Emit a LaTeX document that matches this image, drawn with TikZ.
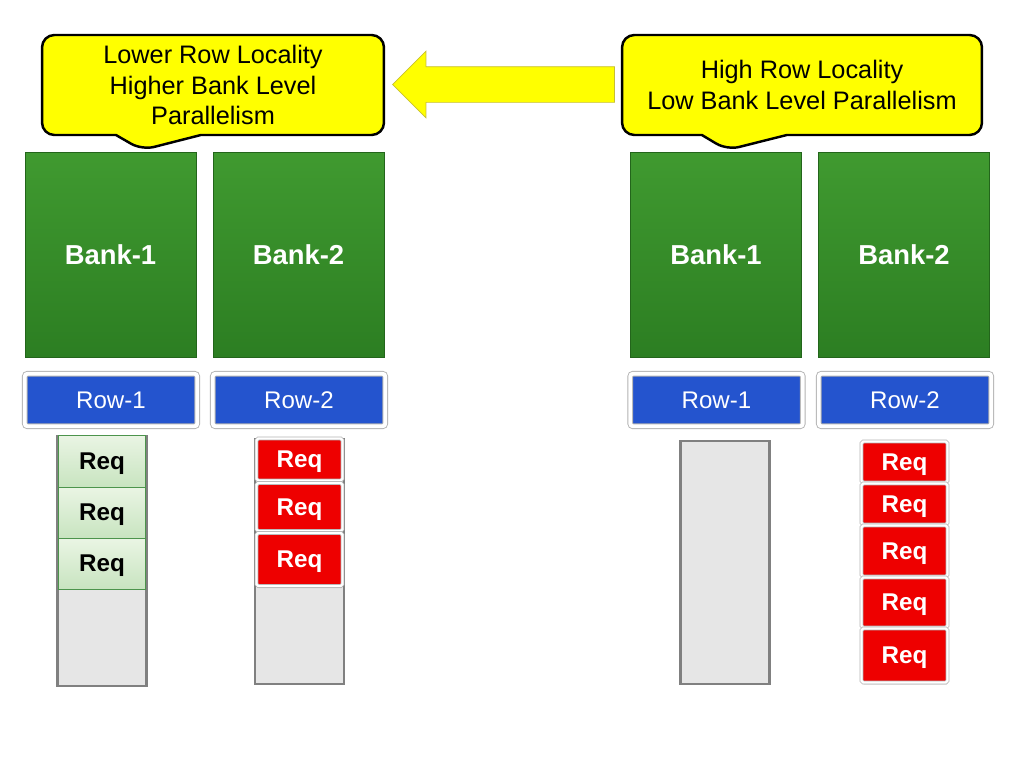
\documentclass[tikz,border=0pt]{standalone}
\usepackage{fontspec}
\setmainfont{Liberation Sans}
\usepackage{tikz}
\usetikzlibrary{shapes.callouts,shapes.arrows,shadows}

\definecolor{calloutyellow}{RGB}{255,255,0}
\definecolor{banktop}{RGB}{64,154,48}
\definecolor{bankbot}{RGB}{44,126,34}
\definecolor{rowblue}{RGB}{36,84,206}
\definecolor{reqred}{RGB}{238,0,0}
\definecolor{reqgreentop}{RGB}{234,245,228}
\definecolor{reqgreenbot}{RGB}{200,228,192}
\definecolor{queuegray}{RGB}{230,230,230}

\tikzset{
  callout/.style={rectangle callout, fill=calloutyellow, draw=black, line width=1.4pt,
    rounded corners=7pt, minimum height=2cm, align=center, callout pointer width=1.7cm,
    font=\fontsize{14.4}{17.3}\selectfont},
  bank/.style={rectangle, top color=banktop, bottom color=bankbot, draw=bankbot!80!black,
    line width=0.3pt, minimum width=3.42cm, minimum height=4.1cm, text=white,
    font=\fontsize{15.6}{18}\selectfont\bfseries},
  rowbox/.style={rectangle, fill=rowblue, draw=black!30, double=white, double distance=2.2pt,
    line width=0.5pt, rounded corners=1.5pt, minimum width=3.45cm, minimum height=1.05cm,
    text=white, font=\fontsize{13.7}{16}\selectfont},
  queue/.style={rectangle, fill=queuegray, draw=black!50, line width=1.3pt,
    minimum width=1.78cm, anchor=north},
  redreq/.style={rectangle, fill=reqred, draw=black!30, double=white, double distance=1.3pt,
    line width=0.45pt, rounded corners=1pt, minimum width=1.72cm, text=white, inner sep=0pt,
    text depth=0pt, drop shadow={opacity=0.25, shadow xshift=0.4pt, shadow yshift=-1.2pt},
    font=\fontsize{13.8}{16}\selectfont\bfseries},
  greenreq/.style={rectangle, top color=reqgreentop, bottom color=reqgreenbot,
    draw=green!40!black!70, line width=0.5pt, minimum width=1.74cm, inner sep=0pt,
    text depth=0pt, font=\fontsize{13.8}{16}\selectfont\bfseries},
  bigarrow/.style={single arrow, fill=calloutyellow, draw=yellow!75!black, line width=0.4pt,
    minimum height=4.44cm, inner xsep=0pt, inner ysep=0.35cm, single arrow head extend=0.31cm,
    shape border rotate=180}
}

\begin{document}
\begin{tikzpicture}[x=0.02cm,y=-0.02cm]
  \useasboundingbox (0,0) rectangle (1024,768);

  % callouts and the arrow between them
  \node[callout, minimum width=6.84cm, callout absolute pointer={(142,150)}] (lcall) at (213,85)
    {Lower Row Locality\\Higher Bank Level\\Parallelism};
  \node[callout, minimum width=7.2cm, callout absolute pointer={(727,150)}] (rcall) at (802,85)
    {High Row Locality\\Low Bank Level Parallelism};
  \node[bigarrow] (shift) at (512.5,84.5) {};

  % banks
  \node[bank] (lbank1) at (110.5,254.5) {Bank-1};
  \node[bank] (lbank2) at (298.5,254.5) {Bank-2};
  \node[bank] (rbank1) at (716,254.5) {Bank-1};
  \node[bank] (rbank2) at (904,254.5) {Bank-2};

  % row buffers
  \node[rowbox] (lrow1) at (111,400) {Row-1};
  \node[rowbox] (lrow2) at (299,400) {Row-2};
  \node[rowbox] (rrow1) at (716.5,400) {Row-1};
  \node[rowbox] (rrow2) at (905,400) {Row-2};

  % request queues
  \node[queue, minimum height=5cm] (lq1) at (102,435) {};
  \node[queue, minimum height=4.9cm] (lq2) at (299.5,438) {};
  \node[queue, minimum height=4.86cm] (rq1) at (725,440) {};

  \foreach \y/\h [count=\i] in {461/52, 512.5/51, 563.5/51}
    \node[greenreq, minimum height=\h*0.02cm] (lg\i) at (102,\y) {Req};
  \foreach \y/\h [count=\i] in {459.5/42, 507/48, 559.5/53}
    \node[redreq, minimum height=\h*0.02cm] (lr\i) at (299.5,\y) {Req};
  \foreach \y/\h [count=\i] in {462/41, 504/41, 551/51, 602.5/50, 655.5/54}
    \node[redreq, minimum height=\h*0.02cm] (rr\i) at (904.5,\y) {Req};
\end{tikzpicture}
\end{document}
